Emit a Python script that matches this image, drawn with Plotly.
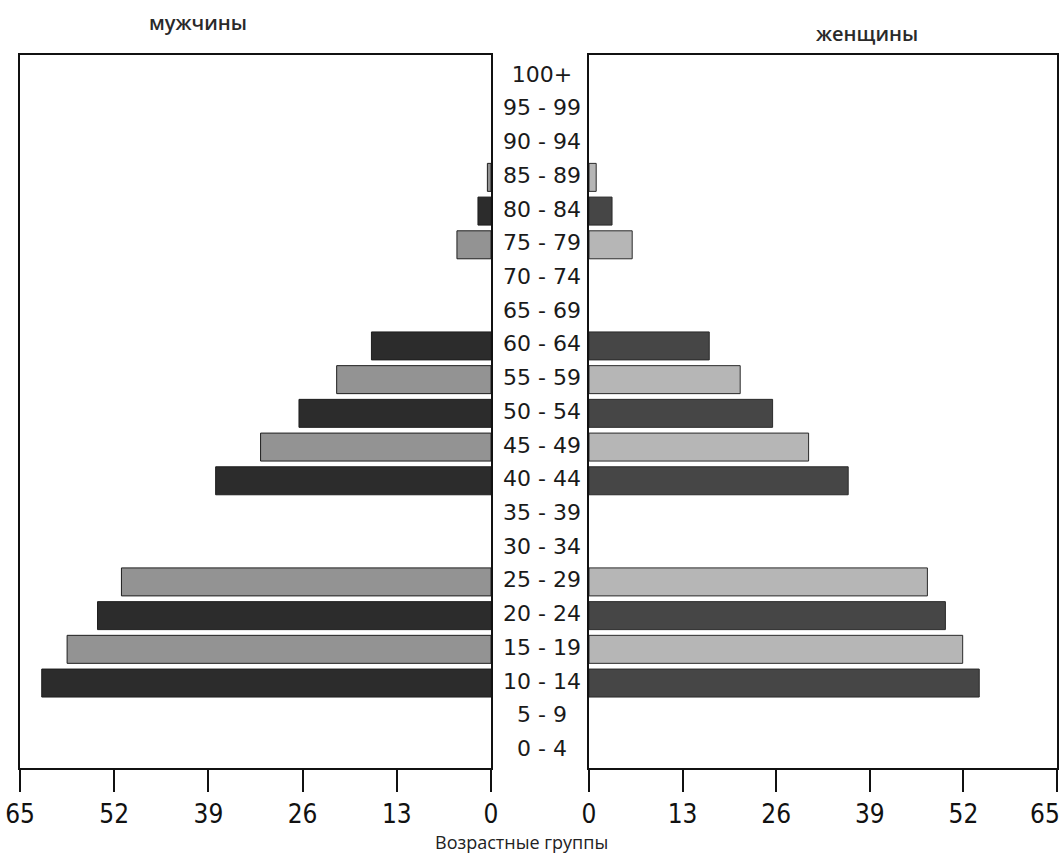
import plotly.graph_objects as go

age_groups = ["0 - 4", "5 - 9", "10 - 14", "15 - 19", "20 - 24", "25 - 29", "30 - 34",
              "35 - 39", "40 - 44", "45 - 49", "50 - 54", "55 - 59", "60 - 64", "65 - 69",
              "70 - 74", "75 - 79", "80 - 84", "85 - 89", "90 - 94", "95 - 99", "100+"]
male = [None, None, 62, 58.5, 54.3, 51, None, None, 38, 31.8, 26.5, 21.3, 16.5, None, None,
        4.7, 1.8, 0.5, None, None, None]
female = [None, None, 54.2, 51.9, 49.5, 47, None, None, 36, 30.5, 25.5, 21, 16.7, None, None,
          6, 3.2, 1, None, None, None]
tick_vals = [0, 13, 26, 39, 52, 65]
tick_text = ["0", "13", "26", "39", "52", "65"]

W, H = 1062, 855
def px(x): return min(max(x / W, 0), 1)
def py(y): return min(max(1 - y / H, 0), 1)

male_colors = ["#2c2c2c" if i % 2 == 0 else "#939393" for i in range(len(age_groups))]
female_colors = ["#464646" if i % 2 == 0 else "#b6b6b6" for i in range(len(age_groups))]

fig = go.Figure()
fig.add_trace(go.Bar(y=age_groups, x=male, orientation="h", xaxis="x", yaxis="y",
                     marker=dict(color=male_colors, line=dict(color="#1e1e1e", width=1)),
                     showlegend=False))
fig.add_trace(go.Bar(y=age_groups, x=female, orientation="h", xaxis="x2", yaxis="y2",
                     marker=dict(color=female_colors, line=dict(color="#2a2a2a", width=1)),
                     showlegend=False))
fig.add_trace(go.Scatter(y=age_groups, x=[0.5] * len(age_groups), mode="text",
                         text=age_groups, textposition="middle center",
                         textfont=dict(family="DejaVu Sans", size=22, color="#1a1a1a"),
                         xaxis="x3", yaxis="y", showlegend=False, hoverinfo="skip"))

ydom = [py(768), py(55)]
yrange = [-0.52, 20.63]
tickfont = dict(family="Liberation Sans Narrow, DejaVu Sans Condensed, sans-serif", size=26, color="#111")

fig.update_layout(
    width=W, height=H, margin=dict(l=0, r=0, t=0, b=0, autoexpand=False),
    paper_bgcolor="white", plot_bgcolor="white", bargap=0.17,
    xaxis=dict(domain=[px(20), px(491)], range=[65, 0], anchor="y", automargin=False,
               tickvals=tick_vals, ticktext=tick_text,
               ticks="outside", ticklen=22, tickwidth=1.5, tickcolor="#111",
               showline=True, linecolor="#111", linewidth=2, mirror=True, ticklabeloverflow="allow",
               showgrid=False, zeroline=False, tickfont=tickfont),
    xaxis2=dict(domain=[px(589), px(1057)], range=[0, 65], anchor="y2", automargin=False,
                tickvals=tick_vals, ticktext=tick_text[:-1] + [""],
                ticks="outside", ticklen=22, tickwidth=1.5, tickcolor="#111",
                showline=True, linecolor="#111", linewidth=2, mirror=True, ticklabeloverflow="allow",
                showgrid=False, zeroline=False, tickfont=tickfont),
    xaxis3=dict(domain=[px(495), px(589)], range=[0, 1], anchor="y", automargin=False,
                visible=False),
    yaxis=dict(domain=ydom, range=yrange, anchor="x", type="category", automargin=False,
               categoryorder="array", categoryarray=age_groups,
               showticklabels=False, ticks="", showgrid=False,
               showline=True, linecolor="#111", linewidth=2, mirror=True),
    yaxis2=dict(domain=ydom, range=yrange, anchor="x2", type="category", automargin=False,
                categoryorder="array", categoryarray=age_groups,
                showticklabels=False, ticks="", showgrid=False,
                showline=True, linecolor="#111", linewidth=2, mirror=True),
    annotations=[
        dict(text=tick_text[-1], x=tick_vals[-1], xref="x2", y=py(814), yref="paper",
             showarrow=False, font=tickfont, xanchor="right", yanchor="middle", xshift=5),
        dict(text="мужчины", x=px(198), y=py(22), xref="paper", yref="paper",
             showarrow=False, font=dict(family="Open Sans", size=20, color="#2a2a2a", weight=600),
             xanchor="center", yanchor="middle"),
        dict(text="женщины", x=px(867), y=py(33), xref="paper", yref="paper",
             showarrow=False, font=dict(family="Open Sans", size=20, color="#2a2a2a", weight=600),
             xanchor="center", yanchor="middle"),
        dict(text="Возрастные группы", x=px(521), y=py(842), xref="paper", yref="paper",
             showarrow=False, font=dict(family="Open Sans", size=18, color="#222"),
             xanchor="center", yanchor="middle"),
    ],
)

fig.write_html("out.html", config={"displayModeBar": False},
               post_script="document.body.style.margin='0px';")
